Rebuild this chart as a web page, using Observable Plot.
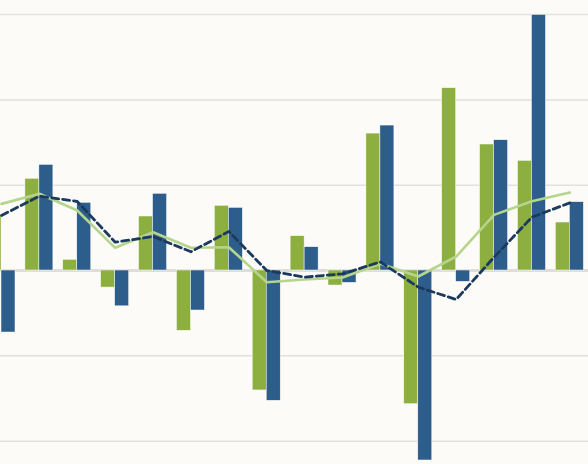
<!DOCTYPE html>
<html><head><meta charset="utf-8">
<script src="https://cdn.jsdelivr.net/npm/d3@7"></script>
<script src="https://cdn.jsdelivr.net/npm/@observablehq/plot@0.6"></script>
<style>html,body{margin:0;padding:0;background:#fcfbf8;overflow:hidden}</style>
</head><body><div id="chart"></div>
<script>
const categories = ["P1","P2","P3","P4","P5","P6","P7","P8","P9","P10","P11","P12","P13","P14","P15","P16"];
const greenBars = [0.645, 1.075, 0.125, -0.20, 0.633, -0.707, 0.758, -1.406, 0.402, -0.176, 1.605, -1.567, 2.137, 1.477, 1.285, 0.5625];
const blueBars  = [-0.727, 1.238, 0.793, -0.42, 0.899, -0.469, 0.734, -1.527, 0.273, -0.145, 1.699, -2.227, -0.133, 1.527, 2.996, 0.801];
const greenLine = [0.781, 0.899, 0.703, 0.266, 0.449, 0.266, 0.273, -0.137, -0.105, -0.082, 0.08, -0.07, 0.164, 0.652, 0.812, 0.914];
const navyLine  = [0.645, 0.871, 0.809, 0.332, 0.398, 0.22, 0.457, 0.0, -0.078, -0.039, 0.10, -0.195, -0.34, 0.156, 0.625, 0.793];
const gridTicks = [-2, -1, 1, 2, 3];

const rows = categories.map((c, i) => ({c, g: greenBars[i], b: blueBars[i], gl: greenLine[i], nl: navyLine[i]}));
const step = 37.89;
const barW = 14;
const chart = Plot.plot({
  width: 588, height: 464, margin: 0,
  style: {background: "#fcfbf8"},
  x: {domain: categories, range: [1 - step / 2, 1 + 15 * step + step / 2], padding: 0, round: false, axis: null},
  y: {domain: [-2.274, 3.165], axis: null},
  marks: [
    Plot.ruleY(gridTicks, {stroke: "#e3e1dd", strokeWidth: 1.5}),
    Plot.ruleY([0], {stroke: "#dfddda", strokeWidth: 3}),
    Plot.barY(rows, {x: "c", y: "g", fill: "#8caf3f", stroke: "#fcfbf8", strokeWidth: 0.5,
      insetLeft: step / 2 - barW, insetRight: step / 2}),
    Plot.barY(rows, {x: "c", y: "b", fill: "#2d5e8b", stroke: "#fcfbf8", strokeWidth: 0.5,
      insetLeft: step / 2, insetRight: step / 2 - barW}),
    Plot.lineY(rows, {x: "c", y: "gl", stroke: "#b6d58c", strokeWidth: 2.6}),
    Plot.lineY(rows, {x: "c", y: "nl", stroke: "#1c3a5e", strokeWidth: 2.8, strokeDasharray: "7,4"})
  ]
});
document.getElementById("chart").appendChild(chart);
</script>
</body></html>
